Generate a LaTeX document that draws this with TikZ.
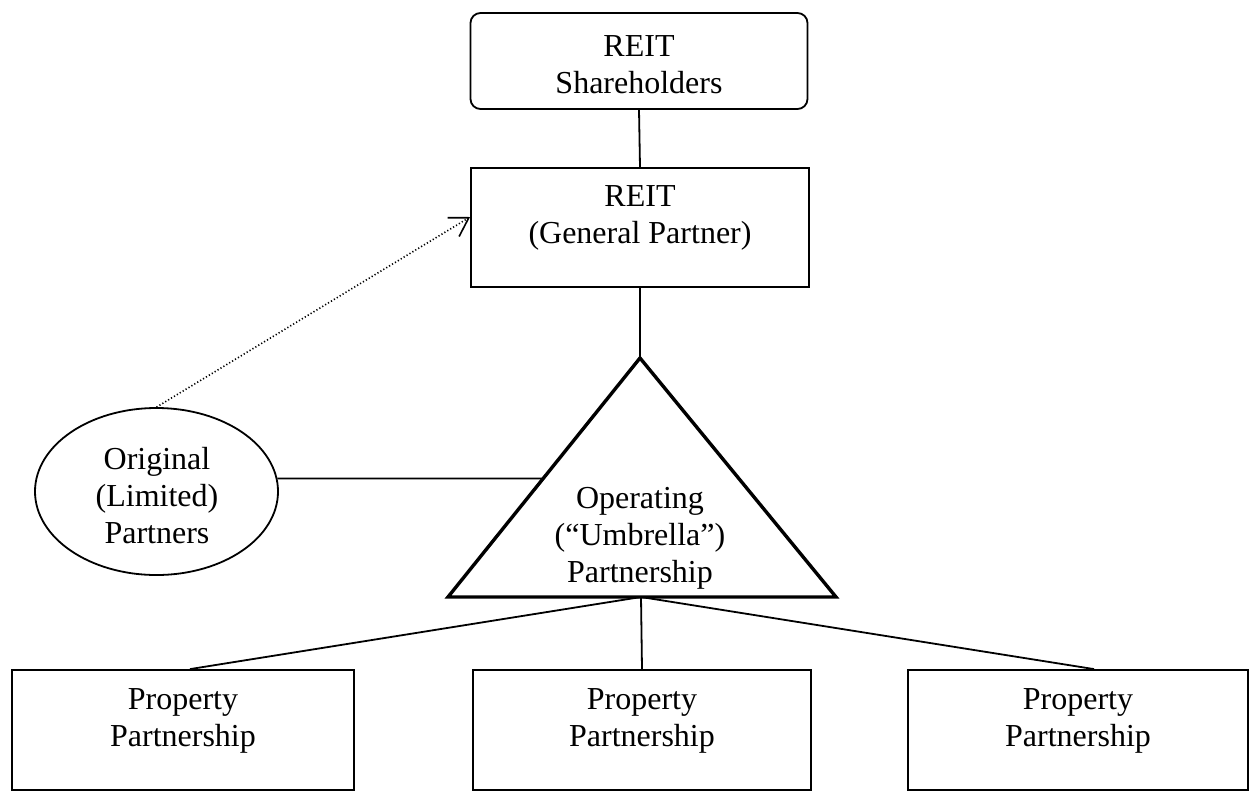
\documentclass[tikz,border=0pt]{standalone}
\usepackage{fontspec}
\setmainfont{Liberation Serif}
\usetikzlibrary{calc,arrows.meta,shapes.geometric}
\tikzset{
  boxnode/.style={draw, line width=1.8pt, minimum width=#1, minimum height=120pt, inner sep=0pt},
  txt/.style={align=center, inner sep=0pt, font=\fontsize{32}{37}\selectfont},
  conn/.style={line width=1.8pt},
  tri/.style={line width=3.4pt, line join=miter},
  dotarrow/.style={line width=1.6pt, dash pattern=on 1.2pt off 2.2pt,
    -{Straight Barb[length=18pt,width=22pt,line width=1.6pt]}}
}
\begin{document}
\begin{tikzpicture}[x=1pt,y=-1pt]
\useasboundingbox[fill=white] (0,0) rectangle (1257,809);
% boxes
\node[draw, line width=1.8pt, rounded corners=10pt, minimum width=337pt, minimum height=96pt, inner sep=0pt] (sh) at (639,61) {};
\node[txt] (shT) at (639,68) {\strut REIT\\\strut Shareholders};
\node[boxnode=338pt, minimum height=119pt] (reit) at (640,227.5) {};
\node[txt] (reitT) at (640,218) {\strut REIT\\\strut (General Partner)};
\node[draw, ellipse, line width=1.8pt, minimum width=243pt, minimum height=167pt, inner sep=0pt] (ell) at (156.5,491.5) {};
\node[txt] (ellT) at (157,498.6) {\strut Original\\\strut (Limited)\\\strut Partners};
\node[boxnode=342pt] (p1) at (183,730) {};
\node[txt] (p1T) at (183,721) {\strut Property\\\strut Partnership};
\node[boxnode=338pt] (p2) at (642,730) {};
\node[txt] (p2T) at (642,721) {\strut Property\\\strut Partnership};
\node[boxnode=340pt] (p3) at (1078,730) {};
\node[txt] (p3T) at (1078,721) {\strut Property\\\strut Partnership};
% triangle
\coordinate (apex) at (640,358);
\coordinate (bl) at (448,597);
\coordinate (br) at (836,597);
\coordinate (bm) at (641,597);
\draw[tri] (apex) -- (bl) -- (br) -- cycle;
\node[txt] (opT) at (640,537.6) {\strut Operating\\\strut (“Umbrella”)\\\strut Partnership};
% connectors
\draw[conn] (sh.south) -- (reit.north);
\draw[conn] (reit.south) -- (apex);
\coordinate (lp) at ($(ell.east)+(-1.5,-13)$);
\coordinate (lt) at ($(bl)!0.4958!(apex)$);
\draw[conn] (lp) -- (lt);
\draw[dotarrow] (ell.north) -- ($(reit.west)+(0,-10.5)$);
\draw[conn] (bm) -- ($(p1.north)+(7,0)$);
\draw[conn] (bm) -- (p2.north);
\draw[conn] (bm) -- ($(p3.north)+(16,0)$);
\end{tikzpicture}
\end{document}
